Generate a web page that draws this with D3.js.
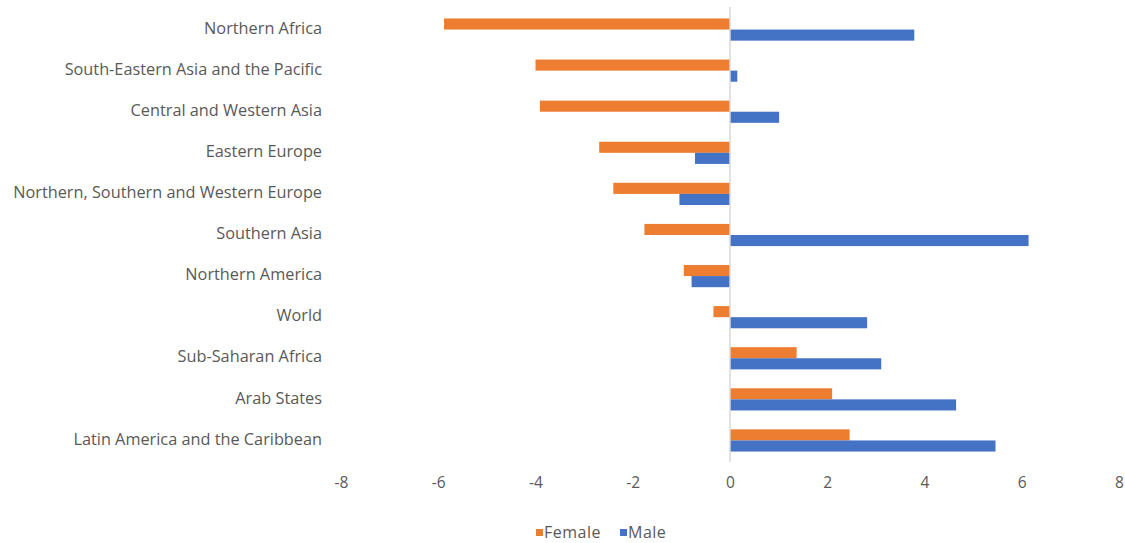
<!DOCTYPE html>
<html>
<head>
<meta charset="utf-8">
<script src="https://cdn.jsdelivr.net/npm/d3@7"></script>
<style>
  body { margin: 0; background: #fff; }
  text { font-family: "Open Sans", sans-serif; fill: #595959; }
</style>
</head>
<body>
<svg></svg>
<script>
const REGIONS = [
  "Northern Africa",
  "South-Eastern Asia and the Pacific",
  "Central and Western Asia",
  "Eastern Europe",
  "Northern, Southern and Western Europe",
  "Southern Asia",
  "Northern America",
  "World",
  "Sub-Saharan Africa",
  "Arab States",
  "Latin America and the Caribbean"
];
const FEMALE = [-5.88, -4.0, -3.91, -2.69, -2.4, -1.76, -0.95, -0.34, 1.37, 2.1, 2.46];
const MALE = [3.79, 0.15, 1.01, -0.72, -1.04, 6.14, -0.79, 2.82, 3.11, 4.65, 5.46];
const X_TICKS = [-8, -6, -4, -2, 0, 2, 4, 6, 8];
const SERIES = ["Female", "Male"];

const width = 1125, height = 543;
const margin = { top: 9, right: 6, bottom: 82, left: 341 };
const colors = { Female: "#ED7D31", Male: "#4472C4" };

const svg = d3.select("svg")
  .attr("width", width)
  .attr("height", height);

const xScale = d3.scaleLinear()
  .domain([-8, 8])
  .range([margin.left, 1119]);

const yScale = d3.scaleBand()
  .domain(REGIONS)
  .range([margin.top, height - margin.bottom])
  .paddingInner(0.46)
  .paddingOuter(0.23);

const subScale = d3.scaleBand()
  .domain(SERIES)
  .range([0, yScale.bandwidth()]);

const rows = REGIONS.map((r, i) => ({ region: r, Female: FEMALE[i], Male: MALE[i] }));

// bars
const groups = svg.selectAll(".row")
  .data(rows)
  .enter()
  .append("g")
  .attr("class", "row")
  .attr("transform", d => `translate(0,${yScale(d.region)})`);

groups.selectAll("rect")
  .data(d => SERIES.map(s => ({ key: s, value: d[s] })))
  .enter()
  .append("rect")
  .attr("x", d => xScale(Math.min(0, d.value)))
  .attr("y", d => subScale(d.key))
  .attr("width", d => Math.abs(xScale(d.value) - xScale(0)))
  .attr("height", subScale.bandwidth())
  .attr("fill", d => colors[d.key]);

// zero line
svg.append("line")
  .attr("x1", xScale(0))
  .attr("x2", xScale(0))
  .attr("y1", margin.top - 2)
  .attr("y2", height - margin.bottom + 1)
  .attr("stroke", "#d9d9d9")
  .attr("stroke-width", 1.5);

// category labels
const yAxis = d3.axisLeft(yScale).tickSize(0).tickPadding(0);
svg.append("g")
  .attr("transform", `translate(${margin.left - 19},-1)`)
  .call(yAxis)
  .call(g => g.select(".domain").remove())
  .selectAll("text")
  .style("font-size", "16.3px")
  .style("fill", "#595959")
  .style("font-family", "Open Sans, sans-serif");

// x axis labels
const xAxis = d3.axisBottom(xScale).tickValues(X_TICKS).tickFormat(d => String(d))
  .tickSize(0).tickPadding(0);
svg.append("g")
  .attr("transform", `translate(0,477)`)
  .call(xAxis)
  .call(g => g.select(".domain").remove())
  .selectAll("text")
  .style("font-size", "15.5px")
  .style("fill", "#595959")
  .style("font-family", "Open Sans, sans-serif");

// legend
const legend = svg.append("g").attr("transform", "translate(536,532)");
const legendX = { Female: 0, Male: 84 };
SERIES.forEach(s => {
  legend.append("rect")
    .attr("x", legendX[s])
    .attr("y", -3)
    .attr("width", 7)
    .attr("height", 7)
    .attr("fill", colors[s]);
  legend.append("text")
    .attr("x", legendX[s] + 8)
    .attr("y", 0)
    .attr("dy", "0.35em")
    .style("font-size", "16px")
    .style("letter-spacing", "0.5px")
    .text(s);
});
</script>
</body>
</html>
